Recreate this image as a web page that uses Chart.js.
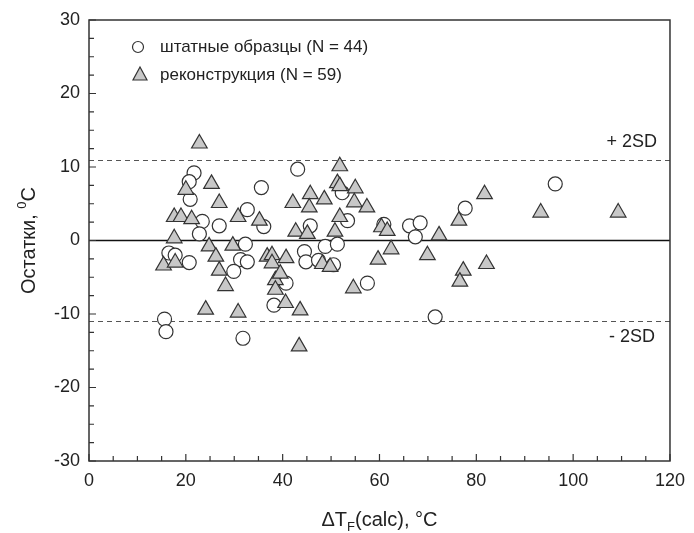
<!DOCTYPE html>
<html>
<head>
<meta charset="utf-8">
<script src="https://cdn.jsdelivr.net/npm/chart.js@4"></script>
<style>
    html, body { margin: 0; padding: 0; background: #fff; }
</style>
</head>
<body>
<canvas id="residChart" width="694" height="533"></canvas>
<script>
// штатные образцы (N = 44)
const shtatX = [21.7, 20.7, 20.9, 35.6, 32.7, 23.4, 26.9, 36.1, 22.8, 16.5,
    17.8, 20.7, 32.3, 31.3, 32.7, 29.9, 15.6, 15.9, 31.8, 38.2,
    43.1, 53.4, 45.7, 60.9, 48.8, 51.3, 44.5, 44.8, 47.4, 50.5,
    40.7, 57.5, 52.3, 96.3, 77.7, 66.2, 68.4, 67.4, 71.5];
const shtatY = [9.2, 8.0, 5.6, 7.2, 4.2, 2.6, 2.0, 1.9, 0.9, -1.7,
    -2.0, -3.0, -0.5, -2.6, -2.9, -4.2, -10.7, -12.4, -13.3, -8.8,
    9.7, 2.7, 2.0, 2.2, -0.8, -0.5, -1.5, -2.9, -2.7, -3.3,
    -5.8, -5.8, 6.5, 7.7, 4.4, 2.0, 2.4, 0.5, -10.4];

// реконструкция (N = 59)
const reconX = [22.8, 25.3, 20.0, 26.9, 17.6, 19.0, 21.2, 30.8, 35.2, 17.6,
    24.8, 29.7, 26.2, 15.4, 17.8, 26.9, 28.2, 24.1, 30.8,
    51.8, 51.3, 51.8, 55.0, 45.7, 48.6, 42.1, 45.5, 54.8, 57.4, 51.8,
    42.7, 45.1, 50.8, 60.4, 61.6, 62.4, 59.7, 36.8, 37.8, 37.8,
    38.5, 38.5, 40.7, 39.5, 48.2, 49.8, 54.6, 40.6, 43.6, 43.4,
    81.7, 93.3, 109.3, 76.4, 72.3, 69.9, 77.3, 76.6, 82.1];
const reconY = [13.2, 7.7, 6.9, 5.1, 3.2, 3.2, 2.9, 3.2, 2.7, 0.3,
    -0.8, -0.7, -2.2, -3.4, -3.0, -4.1, -6.2, -9.4, -9.8,
    10.1, 7.8, 7.4, 7.1, 6.3, 5.6, 5.1, 4.5, 5.2, 4.5, 3.2,
    1.2, 0.9, 1.2, 1.8, 1.3, -1.2, -2.6, -2.2, -2.0, -3.1,
    -5.4, -6.7, -2.4, -4.5, -3.2, -3.6, -6.5, -8.5, -9.5, -14.4,
    6.3, 3.8, 3.8, 2.7, 0.7, -2.0, -4.1, -5.6, -3.2];

const xTickValues = [0, 20, 40, 60, 80, 100, 120];
const yTickValues = [-30, -20, -10, 0, 10, 20, 30];
const sdLevel = 11;

const FONT = 'Arial, "Liberation Sans", sans-serif';
const INK = '#333';

function toPoints(xs, ys) {
    return xs.map((x, i) => ({ x: x, y: ys[i] }));
}

// рамка, внутренние засечки, линии 0 и ±2SD, легенда, подписи осей
const decorPlugin = {
    id: 'decor',
    beforeDatasetsDraw(chart) {
        const ctx = chart.ctx;
        const a = chart.chartArea;
        const y = chart.scales.y;
        ctx.save();
        // нулевая линия
        ctx.strokeStyle = '#111';
        ctx.lineWidth = 1.5;
        ctx.beginPath();
        ctx.moveTo(a.left, y.getPixelForValue(0));
        ctx.lineTo(a.right, y.getPixelForValue(0));
        ctx.stroke();
        // ±2SD
        ctx.strokeStyle = '#555';
        ctx.lineWidth = 1;
        ctx.setLineDash([5, 4]);
        [sdLevel, -sdLevel].forEach(v => {
            const py = Math.round(y.getPixelForValue(v)) + 0.5;
            ctx.beginPath();
            ctx.moveTo(a.left, py);
            ctx.lineTo(a.right, py);
            ctx.stroke();
        });
        ctx.restore();
    },
    afterDraw(chart) {
        const ctx = chart.ctx;
        const a = chart.chartArea;
        const xs = chart.scales.x;
        const ys = chart.scales.y;
        ctx.save();

        // рамка
        ctx.strokeStyle = INK;
        ctx.lineWidth = 1.5;
        ctx.setLineDash([]);
        ctx.strokeRect(a.left, a.top, a.right - a.left, a.bottom - a.top);

        // засечки внутрь
        ctx.lineWidth = 1.2;
        ctx.beginPath();
        for (let v = 0; v <= 120; v += 5) {
            const px = xs.getPixelForValue(v);
            const len = v % 20 === 0 ? 7 : 5;
            ctx.moveTo(px, a.bottom);
            ctx.lineTo(px, a.bottom - len);
        }
        for (let v = -30; v <= 30; v += 2.5) {
            const py = ys.getPixelForValue(v);
            const len = v % 10 === 0 ? 7 : 5;
            ctx.moveTo(a.left, py);
            ctx.lineTo(a.left + len, py);
        }
        ctx.stroke();

        // подписи 2SD
        ctx.fillStyle = '#222';
        ctx.font = '18px ' + FONT;
        ctx.textAlign = 'right';
        ctx.textBaseline = 'middle';
        ctx.fillText('+ 2SD', a.right - 13, ys.getPixelForValue(sdLevel) - 18);
        ctx.fillText('- 2SD', a.right - 15, ys.getPixelForValue(-sdLevel) + 16);

        // легенда
        ctx.font = '17px ' + FONT;
        ctx.textAlign = 'left';
        ctx.fillText('штатные образцы (N = 44)', 160, 47);
        ctx.fillText('реконструкция (N = 59)', 160, 75);
        ctx.lineWidth = 1.2;
        ctx.strokeStyle = INK;
        ctx.fillStyle = '#fff';
        ctx.beginPath();
        ctx.arc(138, 47, 5.5, 0, Math.PI * 2);
        ctx.fill();
        ctx.stroke();
        ctx.fillStyle = '#c8c8c8';
        ctx.beginPath();
        ctx.moveTo(140, 67);
        ctx.lineTo(147, 80);
        ctx.lineTo(133, 80);
        ctx.closePath();
        ctx.fill();
        ctx.stroke();

        // подпись оси X: ΔT_F(calc), °C
        ctx.fillStyle = '#222';
        ctx.textBaseline = 'alphabetic';
        ctx.textAlign = 'left';
        const big = '20px ' + FONT;
        const small = '13px ' + FONT;
        const p1 = 'ΔT', p2 = 'F', p3 = '(calc), °C';
        ctx.font = big;
        const w1 = ctx.measureText(p1).width;
        const w3 = ctx.measureText(p3).width;
        ctx.font = small;
        const w2 = ctx.measureText(p2).width;
        const cx = (a.left + a.right) / 2;
        let sx = cx - (w1 + w2 + w3) / 2;
        const base = 526;
        ctx.font = big;
        ctx.fillText(p1, sx, base);
        sx += w1;
        ctx.font = small;
        ctx.fillText(p2, sx, base + 5);
        sx += w2;
        ctx.font = big;
        ctx.fillText(p3, sx, base);

        // подпись оси Y: Остатки, ⁰C
        ctx.translate(35, (a.top + a.bottom) / 2);
        ctx.rotate(-Math.PI / 2);
        const q1 = 'Остатки, ', q2 = '0', q3 = 'C';
        ctx.font = big;
        const v1 = ctx.measureText(q1).width;
        const v3 = ctx.measureText(q3).width;
        ctx.font = small;
        const v2 = ctx.measureText(q2).width;
        let sy = -(v1 + v2 + v3) / 2;
        ctx.font = big;
        ctx.fillText(q1, sy, 0);
        sy += v1;
        ctx.font = small;
        ctx.fillText(q2, sy, -9);
        sy += v2;
        ctx.font = big;
        ctx.fillText(q3, sy, 0);

        ctx.restore();
    }
};

const ctx = document.getElementById('residChart').getContext('2d');
new Chart(ctx, {
    type: 'scatter',
    data: {
        datasets: [{
            label: 'штатные образцы (N = 44)',
            data: toPoints(shtatX, shtatY),
            pointStyle: 'circle',
            radius: 7,
            backgroundColor: '#fff',
            borderColor: INK,
            borderWidth: 1.2,
            order: 2
        }, {
            label: 'реконструкция (N = 59)',
            data: toPoints(reconX, reconY),
            pointStyle: 'triangle',
            radius: 9,
            backgroundColor: '#c8c8c8',
            borderColor: INK,
            borderWidth: 1.2,
            order: 1
        }]
    },
    options: {
        responsive: false,
        devicePixelRatio: 1,
        animation: false,
        layout: { padding: { top: 20, right: 20, left: 0, bottom: 0 } },
        plugins: {
            legend: { display: false },
            tooltip: { enabled: false }
        },
        scales: {
            x: {
                type: 'linear',
                min: 0,
                max: 120,
                afterFit(scale) { scale.height = 72; },
                afterBuildTicks(scale) { scale.ticks = xTickValues.map(v => ({ value: v })); },
                grid: { display: false, drawTicks: false },
                border: { display: false },
                ticks: { color: '#222', padding: 9, font: { family: FONT, size: 18 } }
            },
            y: {
                type: 'linear',
                min: -30,
                max: 30,
                afterFit(scale) { scale.width = 89; },
                afterBuildTicks(scale) { scale.ticks = yTickValues.map(v => ({ value: v })); },
                grid: { display: false, drawTicks: false },
                border: { display: false },
                ticks: { color: '#222', padding: 9, font: { family: FONT, size: 18 } }
            }
        }
    },
    plugins: [decorPlugin]
});
</script>
</body>
</html>
